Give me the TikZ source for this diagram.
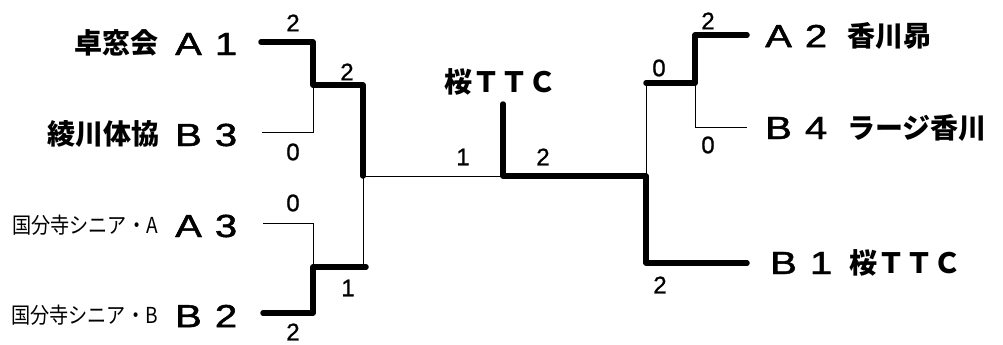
\documentclass[tikz,border=0pt]{standalone}
\usepackage{fontspec}
\newfontfamily\jp{Noto Sans CJK JP}
\newfontfamily\lat[FakeBold=1]{Liberation Sans}
\newfontfamily\latb[FakeBold=1.4]{Liberation Sans}
\usepackage{graphicx}
\newcommand{\wide}[1]{\scalebox{1.25}[1]{#1}}
\newcommand{\seedtxt}[2]{\makebox[38pt][l]{\wide{#1}}\makebox[24pt][r]{\wide{#2}}}
\begin{document}
\begin{tikzpicture}[x=1pt,y=-1pt,
  thickl/.style={line width=5.5pt,line join=round,line cap=round},
  thinl/.style={line width=1pt},
  score/.style={inner sep=0pt,font=\lat\fontsize{24}{24}\selectfont},
  team/.style={inner sep=0pt,font=\jp\bfseries\fontsize{28}{28}\selectfont},
  small/.style={inner sep=0pt,font=\jp\fontsize{22}{22}\selectfont},
  seed/.style={inner sep=0pt,anchor=west,font=\latb\fontsize{32}{32}\selectfont}]
\useasboundingbox (0,0) rectangle (1003,345);
% coordinates
\coordinate (a1) at (261,42);  \coordinate (a1c) at (313,42);
\coordinate (m1) at (313,85);  \coordinate (m1r) at (363,85);
\coordinate (j) at (363,176);
\coordinate (b3) at (262,132); \coordinate (b3c) at (313,132);
\coordinate (a3) at (263,223); \coordinate (a3c) at (313,223);
\coordinate (m2) at (313,267); \coordinate (m2j) at (363,267); \coordinate (m2r) at (366,267);
\coordinate (b2) at (263,313); \coordinate (b2c) at (313,313);
\coordinate (c) at (503,176);  \coordinate (ctop) at (503,104);
\coordinate (r) at (646,176);  \coordinate (rtop) at (646,83);
\coordinate (rbot) at (646,263); \coordinate (b1) at (747,263);
\coordinate (rm) at (695,83);  \coordinate (a2c) at (695,35); \coordinate (a2) at (747,35);
\coordinate (b4c) at (695,127); \coordinate (b4) at (747,127);
% thin lines
\draw[thinl] (b3) -- (b3c) -- (m1);
\draw[thinl] (a3) -- (a3c) -- (m2);
\draw[thinl] (j) -- (m2j);
\draw[thinl] (j) -- (c);
\draw[thinl] (r) -- (rtop);
\draw[thinl] (rm) -- (b4c) -- (b4);
% thick lines
\draw[thickl] (a1) -- (a1c) -- (m1) -- (m1r) -- (j);
\draw[thickl] (b2) -- (b2c) -- (m2) -- (m2r);
\draw[thickl] (ctop) -- (c) -- (r) -- (rbot) -- (b1);
\draw[thickl] (rtop) -- (rm) -- (a2c) -- (a2);
% scores
\node[score] (s1) at (293,23) {2};
\node[score] (s2) at (347,72) {2};
\node[score] (s3) at (293,152) {0};
\node[score] (s4) at (293,203) {0};
\node[score] (s5) at (348,288) {1};
\node[score] (s6) at (293,332) {2};
\node[score] (s7) at (463,157) {1};
\node[score] (s8) at (543,157) {2};
\node[score] (s9) at (659,68) {0};
\node[score] (s10) at (708,21) {2};
\node[score] (s11) at (708,145) {0};
\node[score] (s12) at (660,285) {2};
% left teams
\node[team,anchor=east] (t1) at (159,43) {卓窓会};
\node[seed] (c1) at (175,44) {\seedtxt{A}{1}};
\node[team,anchor=east] (t2) at (160,134) {綾川体協};
\node[seed] (c2) at (175,135) {\seedtxt{B}{3}};
\node[small,anchor=east] (t3) at (158,225) {\scalebox{0.87}[1]{国分寺シニア・A}};
\node[seed] (c3) at (175,226) {\seedtxt{A}{3}};
\node[small,anchor=east] (t4) at (158,315) {\scalebox{0.87}[1]{国分寺シニア・B}};
\node[seed] (c4) at (175,316) {\seedtxt{B}{2}};
% center
\node[team,anchor=west] (t5) at (444,82) {桜ＴＴＣ};
% right teams
\node[seed] (c5) at (765,36) {\seedtxt{A}{2}};
\node[team,anchor=west] (t6) at (847,36) {香川昴};
\node[seed] (c6) at (765,128) {\seedtxt{B}{4}};
\node[team,anchor=west] (t7) at (847,128) {ラージ香川};
\node[seed] (c7) at (770,263) {\seedtxt{B}{1}};
\node[team,anchor=west] (t8) at (849,263) {桜ＴＴＣ};
\end{tikzpicture}
\end{document}
